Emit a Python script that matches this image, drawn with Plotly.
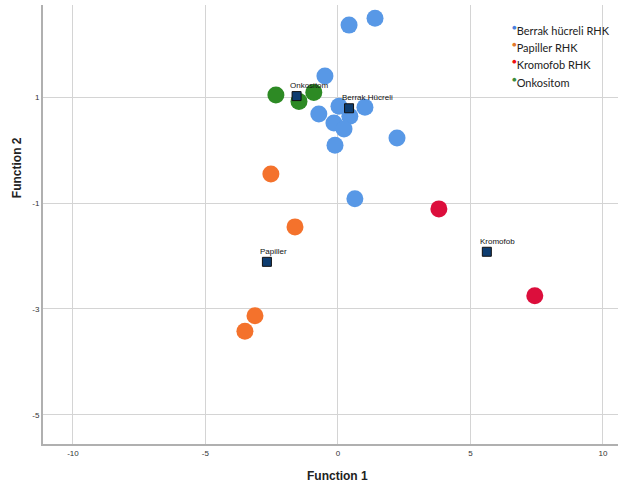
import plotly.graph_objects as go

# Data (discriminant function scores)
berrak_f1 = [0.42, 1.40, -0.49, 0.04, 1.02, -0.72, 0.45, -0.15, 0.23, 2.23, -0.11, 0.64]
berrak_f2 = [2.36, 2.49, 1.40, 0.83, 0.81, 0.68, 0.64, 0.51, 0.40, 0.23, 0.09, -0.92]
onko_f1 = [-2.34, -1.47, -0.91]
onko_f2 = [1.04, 0.92, 1.09]
papiller_f1 = [-2.53, -1.62, -3.13, -3.51]
papiller_f2 = [-0.45, -1.45, -3.13, -3.42]
kromofob_f1 = [3.81, 7.43]
kromofob_f2 = [-1.11, -2.75]

centroid_names = ["Onkositom", "Berrak Hücreli", "Papiller", "Kromofob"]
centroid_f1 = [-1.56, 0.42, -2.68, 5.62]
centroid_f2 = [1.02, 0.79, -2.11, -1.92]

legend_names = ["Berrak hücreli RHK", "Papiller RHK", "Kromofob RHK", "Onkositom"]
legend_colors = ["#4a7fdc", "#e2782c", "#f01010", "#3c8c3c"]

x_ticks = [-10, -5, 0, 5, 10]
y_ticks = [1, -1, -3, -5]

fig = go.Figure()

def grp(x, y, color):
    fig.add_trace(go.Scatter(x=x, y=y, mode="markers", showlegend=False,
                             marker=dict(size=17, color=color, line=dict(width=0)),
                             hoverinfo="x+y"))

grp(berrak_f1, berrak_f2, "#5898e6")
grp(onko_f1, onko_f2, "#2d8a24")
grp(papiller_f1, papiller_f2, "#f4722c")
grp(kromofob_f1, kromofob_f2, "#dc0e3c")

fig.add_trace(go.Scatter(x=centroid_f1, y=centroid_f2, mode="markers", showlegend=False,
                         marker=dict(symbol="square", size=9, color="#0e3d70",
                                     line=dict(width=1, color="#111111"))))

for name, cx, cy in zip(centroid_names, centroid_f1, centroid_f2):
    fig.add_annotation(x=cx, y=cy, text=name, showarrow=False, xanchor="left",
                       yanchor="bottom", xshift=-9, yshift=4,
                       font=dict(family="Arial, Liberation Sans", size=8, color="#111111"))

for i, (name, col) in enumerate(zip(legend_names, legend_colors)):
    fig.add_annotation(xref="paper", yref="paper", x=0.812, y=0.945 - i * 0.0395,
                       xanchor="left", yanchor="middle", showarrow=False,
                       text=f"<span style='color:{col};font-size:11px'><sup>●</sup></span>{name}",
                       font=dict(family="Lato, Open Sans", size=11, color="#222"))

fig.add_annotation(xref="paper", yref="paper", x=0.512, y=-0.052, yanchor="top",
                   text="<b>Function 1</b>", showarrow=False,
                   font=dict(family="Arial, Liberation Sans", size=12, color="#222"))
fig.add_annotation(xref="paper", yref="paper", x=-0.044, y=0.704, xanchor="center",
                   text="<b>Function 2</b>", showarrow=False, textangle=-90,
                   font=dict(family="Arial, Liberation Sans", size=12, color="#222"))

fig.update_xaxes(range=[-11.13, 10.57], tickvals=x_ticks, ticktext=[str(v) for v in x_ticks],
                 showgrid=True, gridcolor="#d4d4d4", gridwidth=1, zeroline=False,
                 showline=True, linecolor="#b0b0b0", linewidth=2, ticks="",
                 tickfont=dict(family="Arial, Liberation Sans", size=8, color="#333"))
fig.update_yaxes(range=[-5.55, 2.74], tickvals=y_ticks, ticktext=[str(v) for v in y_ticks],
                 showgrid=True, gridcolor="#d4d4d4", gridwidth=1, zeroline=False,
                 showline=True, linecolor="#b0b0b0", linewidth=2, ticks="",
                 tickfont=dict(family="Arial, Liberation Sans", size=8, color="#333"))

fig.update_layout(width=619, height=486, margin=dict(l=43, r=1, t=5, b=42),
                  plot_bgcolor="white", paper_bgcolor="white", showlegend=False)

fig.write_html("out.html", config={"displayModeBar": False},
               post_script="document.body.style.margin='0';")
